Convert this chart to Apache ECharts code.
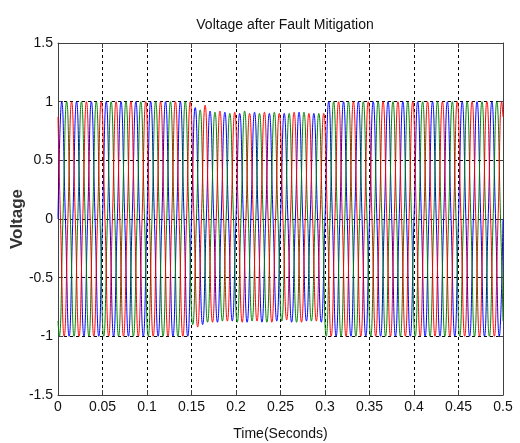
<!DOCTYPE html>
<html>
<head>
<meta charset="utf-8">
<title>Voltage after Fault Mitigation</title>
<script src="https://cdn.jsdelivr.net/npm/echarts@6/dist/echarts.min.js"></script>
<style>
html, body { margin: 0; padding: 0; background: #fff; }
#chart { width: 520px; height: 443px; }
</style>
</head>
<body>
<div id="chart"></div>
<script>
// axis ticks
var xTicks = [0, 0.05, 0.1, 0.15, 0.2, 0.25, 0.3, 0.35, 0.4, 0.45, 0.5];
var yTicks = [-1.5, -1, -0.5, 0, 0.5, 1, 1.5];

// supply frequency (Hz), 30 cycles over 0..0.5 s
var freq = 60;

// magnitude of each half-cycle peak, per phase (sag 0.15 s .. 0.30 s)
var peaksA = [1, 1, 1, 1, 1, 1, 1, 1, 1, 1, 1, 1, 1, 1, 1, 1, 1, 1,
    0.95, 0.9, 0.92, 0.88, 0.91, 0.87, 0.9, 0.88, 0.91, 0.88, 0.9, 0.87, 0.9, 0.88, 0.91, 0.87, 0.9, 0.88,
    1, 1, 1, 1, 1, 1, 1, 1, 1, 1, 1, 1, 1, 1, 1, 1, 1, 1, 1, 1, 1, 1, 1, 1];
var peaksB = [1, 1, 1, 1, 1, 1, 1, 1, 1, 1, 1, 1, 1, 1, 1, 1, 1, 1,
    0.9, 0.93, 0.88, 0.91, 0.87, 0.9, 0.88, 0.92, 0.87, 0.9, 0.88, 0.91, 0.87, 0.9, 0.88, 0.91, 0.87, 0.9,
    1, 1, 1, 1, 1, 1, 1, 1, 1, 1, 1, 1, 1, 1, 1, 1, 1, 1, 1, 1, 1, 1, 1, 1];
var peaksC = [1, 1, 1, 1, 1, 1, 1, 1, 1, 1, 1, 1, 1, 1, 1, 1, 1, 1,
    0.92, 0.97, 0.88, 0.92, 0.87, 0.91, 0.88, 0.9, 0.87, 0.91, 0.88, 0.9, 0.86, 0.91, 0.88, 0.9, 0.87, 0.9,
    1, 1, 1, 1, 1, 1, 1, 1, 1, 1, 1, 1, 1, 1, 1, 1, 1, 1, 1, 1, 1, 1, 1, 1];

// value at t = 0 and t = 0.5 for each phase
var startVals = [0, -0.87, 0.87];
var endVals = [0, -0.87, 0.87];
// angle (deg) of first extreme and its sign
var firstExt = [90, 30, 150];
var firstSign = [1, -1, -1];

var names = ['Va', 'Vb', 'Vc'];
var colors = ['#0000ff', '#008000', '#ff0000'];
var peaks = [peaksA, peaksB, peaksC];

var tEnd = xTicks[xTicks.length - 1];
var endAngle = tEnd * freq * 360;

function toTime(a) {
    return a / (360 * freq);
}

// points at zero crossings and peaks, the line is smoothed between them
function buildPoints(p) {
    var pts = [[0, startVals[p]]];
    var amp = peaks[p];
    var sign = firstSign[p];
    for (var k = 0; k < amp.length; k++) {
        var a = firstExt[p] + 180 * k;
        if (a - 90 > 0) pts.push([toTime(a - 90), 0]);
        pts.push([toTime(a), sign * amp[k]]);
        sign = -sign;
        if (k === amp.length - 1 && a + 90 < endAngle) pts.push([toTime(a + 90), 0]);
    }
    pts.push([tEnd, endVals[p]]);
    return pts;
}

var chart = echarts.init(document.getElementById('chart'));
var font = "'Liberation Sans Narrow', 'Liberation Sans', Arial, sans-serif";
var gridDash = {color: '#000', width: 1, type: [3, 3]};
var frame = {show: true, onZero: false, lineStyle: {color: '#404040', width: 1}};

var series = [];
for (var p = 0; p < 3; p++) {
    series.push({
        name: names[p],
        type: 'line',
        data: buildPoints(p),
        showSymbol: false,
        smooth: 0.5,
        lineStyle: {color: colors[p], width: 1},
        itemStyle: {color: colors[p]},
        animation: false
    });
}

var option = {
    backgroundColor: '#fff',
    animation: false,
    title: {
        text: 'Voltage after Fault Mitigation',
        left: 280,
        textAlign: 'center',
        top: 13,
        textStyle: {fontFamily: font, fontSize: 14, fontWeight: 'normal', color: '#111'}
    },
    grid: {left: 58, right: 17, top: 43, bottom: 48, containLabel: false, outerBoundsMode: 'none'},
    xAxis: [{
        type: 'value',
        min: xTicks[0],
        max: tEnd,
        interval: xTicks[1] - xTicks[0],
        name: 'Time(Seconds)',
        nameLocation: 'middle',
        nameGap: 32,
        nameTextStyle: {fontFamily: font, fontSize: 14, color: '#111'},
        axisLine: frame,
        axisTick: {inside: true, length: 5, lineStyle: {color: '#404040'}},
        axisLabel: {fontFamily: font, fontSize: 14, color: '#111', margin: 5},
        splitLine: {show: true, lineStyle: gridDash}
    }, {
        type: 'value',
        position: 'top',
        min: xTicks[0],
        max: tEnd,
        interval: xTicks[1] - xTicks[0],
        axisLine: frame,
        axisTick: {inside: true, length: 5, lineStyle: {color: '#404040'}},
        axisLabel: {show: false},
        splitLine: {show: false}
    }],
    yAxis: [{
        type: 'value',
        min: yTicks[0],
        max: yTicks[yTicks.length - 1],
        interval: yTicks[1] - yTicks[0],
        name: 'Voltage',
        nameLocation: 'middle',
        nameGap: 32,
        nameMoveOverlap: false,
        nameTextStyle: {fontFamily: 'Liberation Sans, Arial, sans-serif', fontSize: 17, fontWeight: 'bold', color: '#333'},
        axisLine: frame,
        axisTick: {inside: true, length: 5, lineStyle: {color: '#404040'}},
        axisLabel: {fontFamily: font, fontSize: 14, color: '#111', margin: 5},
        splitLine: {show: true, lineStyle: gridDash}
    }, {
        type: 'value',
        position: 'right',
        min: yTicks[0],
        max: yTicks[yTicks.length - 1],
        interval: yTicks[1] - yTicks[0],
        axisLine: frame,
        axisTick: {inside: true, length: 5, lineStyle: {color: '#404040'}},
        axisLabel: {show: false},
        splitLine: {show: false}
    }],
    series: series
};
chart.setOption(option);
</script>
</body>
</html>
